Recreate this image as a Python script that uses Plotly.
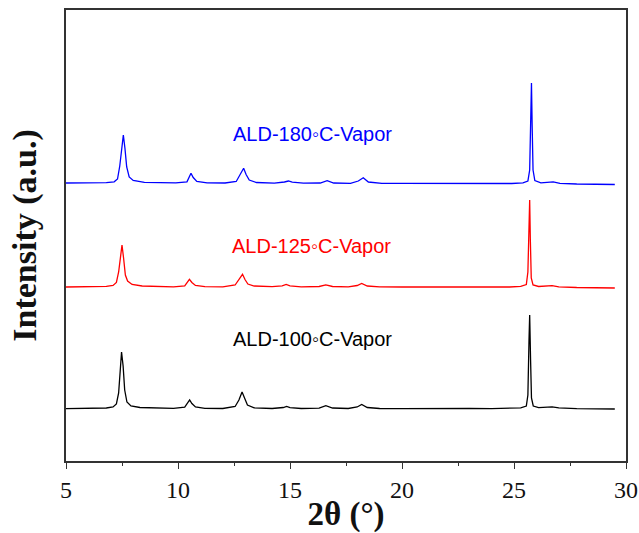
import plotly.graph_objects as go

# 2θ positions and intensities (a.u.)
x_100 = [5.0, 5.6, 6.2, 6.8, 7.1, 7.25, 7.35, 7.42, 7.48, 7.55, 7.62, 7.72, 7.9, 8.3, 9.0, 9.8,
         10.3, 10.42, 10.52, 10.62, 10.78, 11.2, 12.0, 12.55, 12.72, 12.86, 12.97, 13.1, 13.4,
         14.2, 14.7, 14.85, 15.0, 15.5, 16.3, 16.6, 16.9, 17.6, 18.0, 18.2, 18.45, 19.0, 20.0,
         21.0, 22.0, 23.0, 24.0, 24.8, 25.3, 25.55, 25.62, 25.67, 25.7, 25.74, 25.78, 25.86,
         26.1, 26.7, 27.0, 27.8, 28.5, 29.5]
y_100 = [524, 527, 525, 530, 540, 570, 680, 910, 1090, 950, 710, 590, 550, 535, 528, 526,
         538, 580, 610, 575, 540, 527, 525, 545, 610, 690, 620, 560, 532,
         525, 535, 545, 534, 525, 528, 554, 530, 525, 540, 565, 535, 525, 524,
         526, 523, 525, 524, 527, 532, 550, 660, 1210, 1460, 1010, 630, 550,
         534, 542, 531, 524, 522, 520]

x_125 = [5.0, 5.6, 6.2, 6.8, 7.1, 7.25, 7.35, 7.43, 7.5, 7.57, 7.65, 7.75, 7.95, 8.4, 9.0, 9.8,
         10.3, 10.42, 10.51, 10.62, 10.78, 11.2, 12.0, 12.55, 12.74, 12.88, 12.99, 13.12, 13.4,
         14.2, 14.65, 14.83, 15.0, 15.5, 16.3, 16.6, 16.9, 17.6, 18.0, 18.2, 18.45, 19.0, 20.0,
         21.0, 22.0, 23.0, 24.0, 24.8, 25.3, 25.55, 25.62, 25.66, 25.7, 25.73, 25.77, 25.85,
         26.1, 26.7, 27.0, 27.8, 28.5, 29.5]
y_125 = [1740, 1743, 1741, 1747, 1755, 1785, 1890, 2050, 2160, 2030, 1860, 1800, 1765, 1750, 1744, 1742,
         1752, 1790, 1817, 1785, 1755, 1743, 1742, 1760, 1820, 1867, 1815, 1770, 1750,
         1743, 1752, 1765, 1752, 1742, 1745, 1762, 1745, 1742, 1755, 1775, 1750, 1741, 1740,
         1740, 1738, 1739, 1737, 1740, 1746, 1765, 1890, 2310, 2610, 2210, 1830, 1760,
         1745, 1754, 1742, 1735, 1732, 1730]

x_180 = [5.0, 5.6, 6.2, 6.8, 7.15, 7.3, 7.4, 7.49, 7.56, 7.63, 7.71, 7.82, 8.0, 8.5, 9.2, 9.9,
         10.4, 10.5, 10.58, 10.68, 10.84, 11.3, 12.1, 12.6, 12.8, 12.93, 13.04, 13.18, 13.5,
         14.3, 14.75, 14.93, 15.1, 15.6, 16.35, 16.66, 16.95, 17.7, 18.05, 18.27, 18.5, 19.1, 20.0,
         21.0, 22.0, 23.0, 24.0, 24.9, 25.4, 25.62, 25.7, 25.74, 25.78, 25.81, 25.85, 25.93,
         26.2, 26.75, 27.05, 27.8, 28.6, 29.5]
y_180 = [2780, 2782, 2780, 2784, 2792, 2820, 2950, 3130, 3260, 3130, 2940, 2840, 2805, 2787, 2782, 2781,
         2792, 2835, 2877, 2835, 2795, 2781, 2780, 2795, 2870, 2927, 2865, 2810, 2785,
         2779, 2790, 2800, 2788, 2778, 2780, 2803, 2780, 2777, 2800, 2833, 2790, 2777, 2776,
         2775, 2774, 2775, 2773, 2775, 2781, 2800, 2910, 3410, 3780, 3360, 2910, 2805,
         2782, 2792, 2777, 2770, 2768, 2765]

labels = ["ALD-100◦C-Vapor", "ALD-125◦C-Vapor", "ALD-180◦C-Vapor"]
colors = ["#000000", "#ff0000", "#0000ff"]
label_x = [16.0, 15.97, 16.0]
label_y = [1220, 2150, 3270]

x_ticks = [5, 10, 15, 20, 25, 30]

fig = go.Figure()
for xs, ys, c, name in zip([x_100, x_125, x_180], [y_100, y_125, y_180], colors, labels):
    fig.add_trace(go.Scatter(x=xs, y=ys, mode="lines", name=name,
                             line=dict(color=c, width=1.3), showlegend=False))

for name, c, lx, ly in zip(labels, colors, label_x, label_y):
    fig.add_annotation(x=lx, y=ly, text=name, showarrow=False,
                       font=dict(family="Liberation Sans, Arial, sans-serif", size=20, color=c))

serif = "Liberation Serif, Times New Roman, serif"
fig.update_layout(
    width=639, height=533,
    margin=dict(l=66, r=13, t=10, b=72),
    plot_bgcolor="white", paper_bgcolor="white",
    xaxis=dict(
        range=[5, 30], tickvals=x_ticks, ticktext=[str(v) for v in x_ticks],
        automargin=False,
        ticks="outside", ticklen=6, tickwidth=1.3, tickcolor="#333333",
        minor=dict(dtick=2.5, tick0=5, ticks="outside", ticklen=3, tickwidth=1.2, tickcolor="#333333"),
        showline=True, linecolor="#333333", linewidth=1.5, mirror=True,
        showgrid=False, zeroline=False, ticklabeloverflow="allow",
        tickfont=dict(family=serif, size=24, color="#111111"),
        title=dict(text="<b>2θ (°)</b>", standoff=6,
                   font=dict(family=serif, size=33, color="#111111")),
    ),
    yaxis=dict(
        range=[0, 4510], showticklabels=False, ticks="",
        automargin=False,
        showline=True, linecolor="#333333", linewidth=1.5, mirror=True,
        showgrid=False, zeroline=False,
        title=dict(text="<b>Intensity (a.u.)</b>", standoff=17,
                   font=dict(family=serif, size=34, color="#111111")),
    ),
)

fig.write_html("out.html")
